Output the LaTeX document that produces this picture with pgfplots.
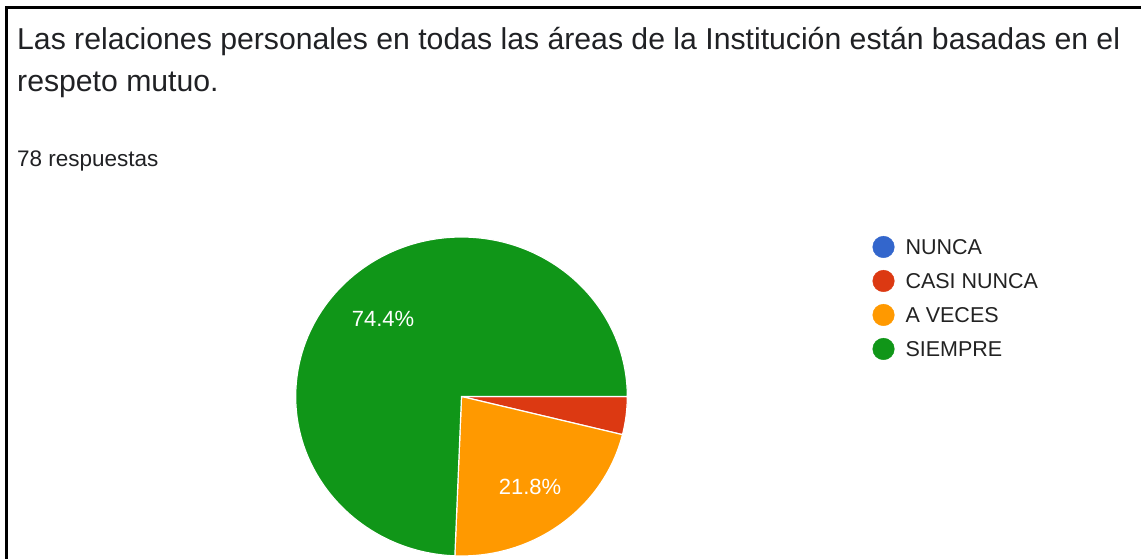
\documentclass[border=0pt]{standalone}
\usepackage{pgfplots}
\pgfplotsset{compat=1.18}
\usepackage{pgfplotstable}
\usepackage{fontspec}
\setmainfont{Liberation Sans}
\definecolor{gblue}{HTML}{3366CC}
\definecolor{gred}{HTML}{DC3912}
\definecolor{gorange}{HTML}{FF9900}
\definecolor{ggreen}{HTML}{109618}
\definecolor{gtext}{HTML}{202124}
\definecolor{gleg}{HTML}{222222}

\pgfplotstableread{
cat count
NUNCA 0
CASINUNCA 3
AVECES 17
SIEMPRE 58
}\datatable

\begin{document}
\begin{tikzpicture}
\useasboundingbox (0,0) rectangle (1141pt,559pt);
\pgfplotstablegetelem{0}{count}\of\datatable \let\cA\pgfplotsretval
\pgfplotstablegetelem{1}{count}\of\datatable \let\cB\pgfplotsretval
\pgfplotstablegetelem{2}{count}\of\datatable \let\cC\pgfplotsretval
\pgfplotstablegetelem{3}{count}\of\datatable \let\cD\pgfplotsretval
\pgfmathsetmacro\tot{\cA+\cB+\cC+\cD}
\pgfmathsetmacro\aA{-360*(\cA/\tot)}
\pgfmathsetmacro\aB{\aA-360*(\cB/\tot)}
\pgfmathsetmacro\aC{\aB-360*(\cC/\tot)}
\pgfmathsetmacro\aD{\aC-360*(\cD/\tot)}
\begin{axis}[
  at={(0pt,0pt)}, anchor=south west,
  x=1pt, y=1pt, xmin=0, xmax=1141, ymin=0, ymax=559,
  scale only axis, hide axis, clip=true,
  legend style={at={(axis cs:872.5,323)}, anchor=north west, draw=none, fill=none,
    inner sep=0pt, outer sep=0pt, row sep=12pt, column sep=11pt,
    font=\fontsize{21.5}{21.5}\selectfont\color{gleg},
    nodes={inner sep=0pt}},
  legend cell align=left,
  legend image code/.code={\fill[#1] (10.5pt,1pt) circle (10.8pt);},
]
\addlegendimage{gblue}\addlegendentry{NUNCA}
\addlegendimage{gred}\addlegendentry{CASI NUNCA}
\addlegendimage{gorange}\addlegendentry{A VECES}
\addlegendimage{ggreen}\addlegendentry{SIEMPRE}
% pie slices (slightly squashed vertically, as in the reference)
\begin{scope}[shift={(axis cs:461.5,162.5)}, yscale=0.962]
\fill[gred, draw=white, line width=1.2pt] (0pt,0pt) -- (\aA:165.8pt) arc[start angle=\aA, end angle=\aB, radius=165.8pt] -- cycle;
\fill[gorange, draw=white, line width=1.2pt] (0pt,0pt) -- (\aB:165.8pt) arc[start angle=\aB, end angle=\aC, radius=165.8pt] -- cycle;
\fill[ggreen, draw=white, line width=1.2pt] (0pt,0pt) -- (\aC:165.8pt) arc[start angle=\aC, end angle=\aD, radius=165.8pt] -- cycle;
\end{scope}
\node[text=white, font=\fontsize{22}{22}\selectfont] at (axis cs:383,240) {74.4\%};
\node[text=white, font=\fontsize{22}{22}\selectfont] at (axis cs:530,72) {21.8\%};
% titles
\node[anchor=base west, inner sep=0pt, text=gtext, font=\fontsize{30.2}{30.2}\selectfont] at (axis cs:17,509) {Las relaciones personales en todas las áreas de la Institución están basadas en el};
\node[anchor=base west, inner sep=0pt, text=gtext, font=\fontsize{30.2}{30.2}\selectfont] at (axis cs:17,467) {respeto mutuo.};
\node[anchor=base west, inner sep=0pt, text=gtext, font=\fontsize{22.5}{22.5}\selectfont] at (axis cs:17,392) {78 respuestas};
\end{axis}
\draw[black, line width=2.2pt] (6.5pt,-5pt) -- (6.5pt,551.5pt) -- (1150pt,551.5pt);
\end{tikzpicture}
\end{document}
